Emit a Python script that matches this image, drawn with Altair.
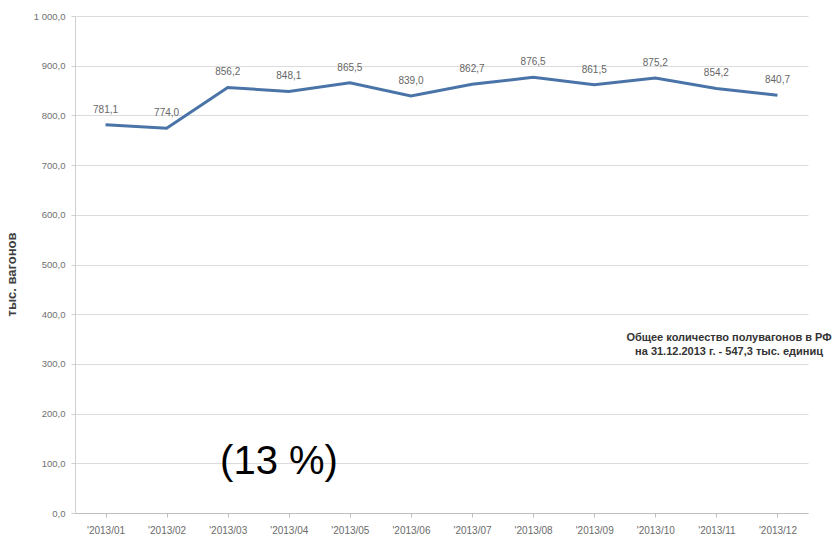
import altair as alt
import pandas as pd

months = ["'2013/01", "'2013/02", "'2013/03", "'2013/04", "'2013/05", "'2013/06",
          "'2013/07", "'2013/08", "'2013/09", "'2013/10", "'2013/11", "'2013/12"]
values = [781.1, 774.0, 856.2, 848.1, 865.5, 839.0, 862.7, 876.5, 861.5, 875.2, 854.2, 840.7]
y_ticks = [0, 100, 200, 300, 400, 500, 600, 700, 800, 900, 1000]
note_lines = ["Общее количество полувагонов в РФ", "на 31.12.2013 г. - 547,3 тыс. единиц"]
pct_text = ["(13 %)"]

df = pd.DataFrame({"month": months, "value": values})
df["label"] = [f"{v:.1f}".replace(".", ",") for v in values]

FONT = "Liberation Sans"

x_enc = alt.X("month:N", sort=months, title=None,
              scale=alt.Scale(paddingInner=0, paddingOuter=0),
              axis=alt.Axis(labelAngle=0, labelFontSize=10, labelColor="#6b6b6b",
                            labelFont=FONT, domainColor="#bfbfbf", tickColor="#bfbfbf",
                            bandPosition=0, tickSize=4, labelPadding=8, grid=False))
y_enc = alt.Y("value:Q", title="тыс. вагонов",
              scale=alt.Scale(domain=[0, 1000], nice=False, zero=True),
              axis=alt.Axis(values=y_ticks, labelFontSize=9.5, labelColor="#707070",
                            labelFont=FONT,
                            labelExpr="replace(replace(format(datum.value, ',.1f'), ',', ' '), '.', ',')",
                            gridColor="#dcdcdc", domainColor="#d0d0d0", tickColor="#d0d0d0",
                            tickSize=4, labelPadding=6,
                            titleFont=FONT, titleFontSize=13, titleFontWeight="bold",
                            titleColor="#404040", titleX=-57, titleY=258))

line = alt.Chart(df).mark_line(color="#4a74a8", strokeWidth=3).encode(x=x_enc, y=y_enc)

labels = alt.Chart(df).mark_text(dy=-15, fontSize=10, color="#666666", font=FONT).encode(
    x=alt.X("month:N", sort=months), y="value:Q", text="label:N")

note1 = alt.Chart(pd.DataFrame({"t": [note_lines[0]]})).mark_text(
    fontSize=11, fontWeight="bold", color="#333333", font=FONT, align="center").encode(
    x=alt.value(654), y=alt.value(322), text="t:N")
note2 = alt.Chart(pd.DataFrame({"t": [note_lines[1]]})).mark_text(
    fontSize=11, fontWeight="bold", color="#333333", font=FONT, align="center").encode(
    x=alt.value(654), y=alt.value(336), text="t:N")

pct = alt.Chart(pd.DataFrame({"t": pct_text})).mark_text(
    fontSize=40, color="#000000", font=FONT, align="center", baseline="middle").encode(
    x=alt.value(204), y=alt.value(446), text="t:N")

chart = alt.layer(line, labels, note1, note2, pct).properties(
    width=733, height=497,
    autosize=alt.AutoSizeParams(type="none"),
    padding={"left": 75, "top": 16, "right": 28, "bottom": 25},
    background="white",
).configure_view(stroke=None)

chart.save("out.html", embed_options={"renderer": "svg", "actions": False})
